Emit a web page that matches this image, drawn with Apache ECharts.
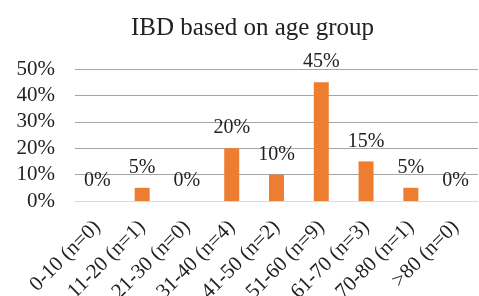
<!DOCTYPE html>
<html>
<head>
<meta charset="utf-8">
<script src="https://cdn.jsdelivr.net/npm/echarts@6/dist/echarts.min.js"></script>
<style>
  html, body { margin: 0; padding: 0; background: #fff; }
  #chart { width: 479px; height: 296px; }
</style>
</head>
<body>
<div id="chart"></div>
<script>
// age groups and share of IBD cases (percent)
var categories = ['0-10 (n=0)', '11-20 (n=1)', '21-30 (n=0)', '31-40 (n=4)', '41-50 (n=2)',
                  '51-60 (n=9)', '61-70 (n=3)', '70-80 (n=1)', '>80 (n=0)'];
var percents = [0, 5, 0, 20, 10, 45, 15, 5, 0];

var font = 'Liberation Serif, Times New Roman, serif';

var chart = echarts.init(document.getElementById('chart'));
chart.setOption({
    animation: false,
    title: {
        text: 'IBD based on age group',
        left: 126,
        top: 11,
        textStyle: { fontFamily: font, fontSize: 25, fontWeight: 'normal', color: '#222' }
    },
    grid: { left: 75, right: 1, top: 69, bottom: 95, outerBoundsMode: 'none', containLabel: false },
    xAxis: {
        type: 'category',
        data: categories,
        axisLine: { lineStyle: { color: '#d9d9d9' } },
        axisTick: { show: false },
        axisLabel: {
            interval: 0,
            rotate: 45,
            margin: 23,
            fontFamily: font,
            fontSize: 21,
            color: '#222'
        }
    },
    yAxis: {
        type: 'value',
        min: 0,
        max: 50,
        interval: 10,
        axisLine: { show: false },
        axisTick: { show: false },
        splitLine: { lineStyle: { color: '#a6a6a6' } },
        axisLabel: {
            margin: 20,
            formatter: '{value}%',
            fontFamily: font,
            fontSize: 21,
            color: '#222'
        }
    },
    series: [
        {
            type: 'bar',
            data: percents,
            barWidth: 15,
            itemStyle: { color: '#ed7d31' },
            label: {
                show: true,
                position: 'top',
                distance: 10,
                formatter: '{c}%',
                fontFamily: font,
                fontSize: 20,
                color: '#222'
            }
        }
    ]
});
</script>
</body>
</html>
